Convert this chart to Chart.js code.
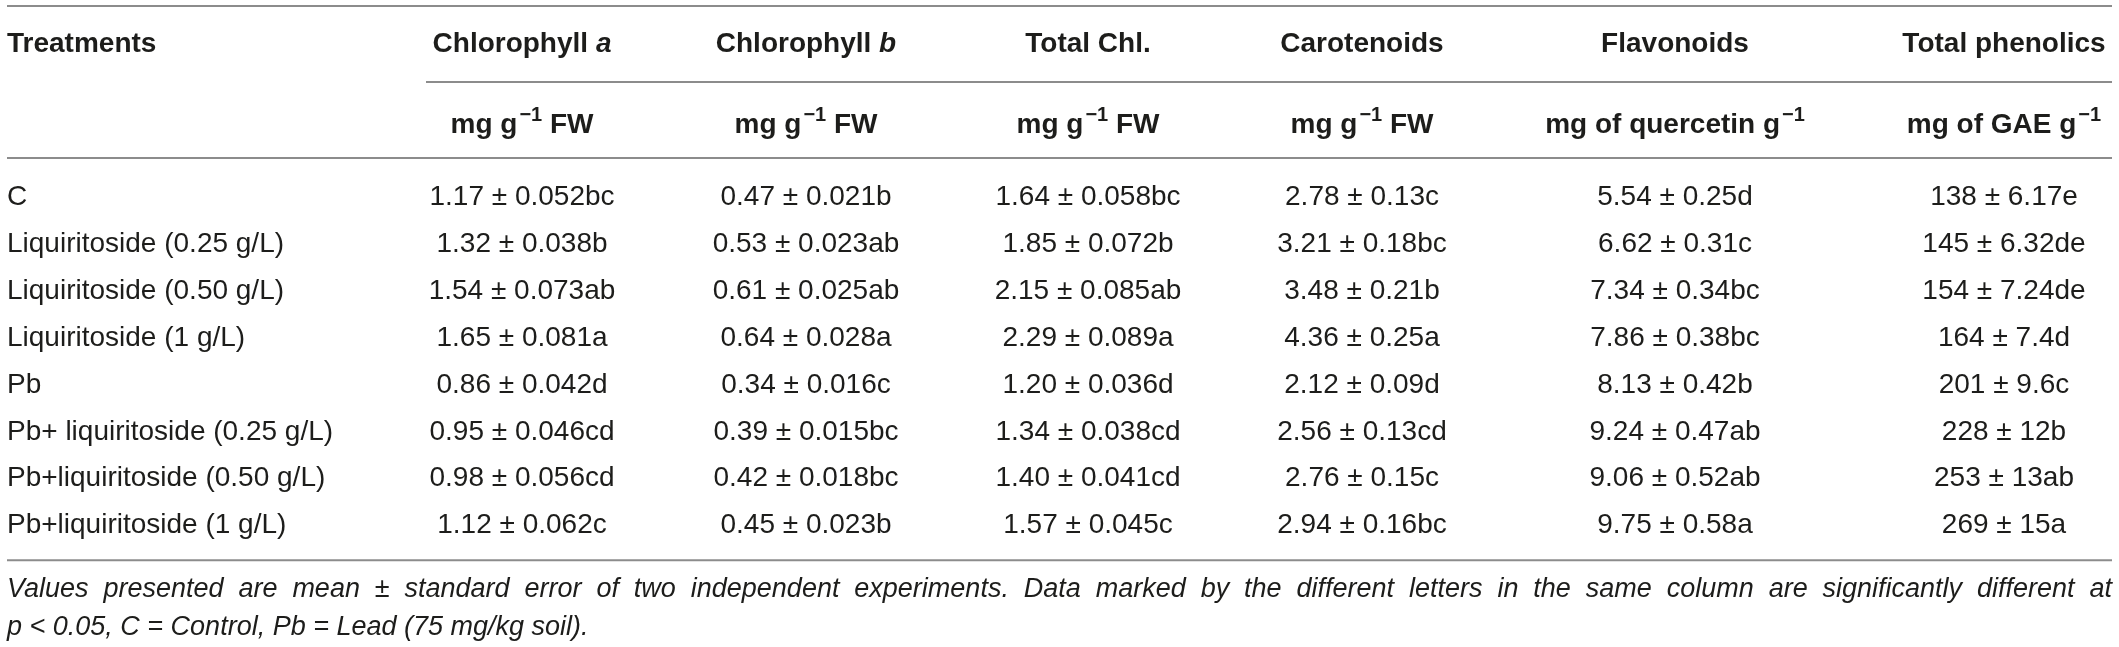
<!DOCTYPE html>
<html>
<head>
<meta charset="utf-8">
<script src="https://cdn.jsdelivr.net/npm/chart.js@4.4.1/dist/chart.umd.min.js"></script>
<style>
  html, body { margin: 0; padding: 0; background: #fff; }
  canvas { display: block; }
</style>
</head>
<body>
<canvas id="tableChart" width="2119" height="647"></canvas>
<script>
// Table contents
const treatments = [
    'C',
    'Liquiritoside (0.25 g/L)',
    'Liquiritoside (0.50 g/L)',
    'Liquiritoside (1 g/L)',
    'Pb',
    'Pb+ liquiritoside (0.25 g/L)',
    'Pb+liquiritoside (0.50 g/L)',
    'Pb+liquiritoside (1 g/L)'
];

// *x* = italic, ^x^ = superscript
const columnHeaders = ['Chlorophyll *a*', 'Chlorophyll *b*', 'Total Chl.', 'Carotenoids', 'Flavonoids', 'Total phenolics'];
const columnUnits = ['mg g^−1^ FW', 'mg g^−1^ FW', 'mg g^−1^ FW', 'mg g^−1^ FW', 'mg of quercetin g^−1^', 'mg of GAE g^−1^'];

const chlA = [1.17, 1.32, 1.54, 1.65, 0.86, 0.95, 0.98, 1.12];
const chlASe = [0.052, 0.038, 0.073, 0.081, 0.042, 0.046, 0.056, 0.062];
const chlALetters = ['bc', 'b', 'ab', 'a', 'd', 'cd', 'cd', 'c'];

const chlB = [0.47, 0.53, 0.61, 0.64, 0.34, 0.39, 0.42, 0.45];
const chlBSe = [0.021, 0.023, 0.025, 0.028, 0.016, 0.015, 0.018, 0.023];
const chlBLetters = ['b', 'ab', 'ab', 'a', 'c', 'bc', 'bc', 'b'];

const totalChl = [1.64, 1.85, 2.15, 2.29, 1.20, 1.34, 1.40, 1.57];
const totalChlSe = [0.058, 0.072, 0.085, 0.089, 0.036, 0.038, 0.041, 0.045];
const totalChlLetters = ['bc', 'b', 'ab', 'a', 'd', 'cd', 'cd', 'c'];

const carotenoids = [2.78, 3.21, 3.48, 4.36, 2.12, 2.56, 2.76, 2.94];
const carotenoidsSe = [0.13, 0.18, 0.21, 0.25, 0.09, 0.13, 0.15, 0.16];
const carotenoidsLetters = ['c', 'bc', 'b', 'a', 'd', 'cd', 'c', 'bc'];

const flavonoids = [5.54, 6.62, 7.34, 7.86, 8.13, 9.24, 9.06, 9.75];
const flavonoidsSe = [0.25, 0.31, 0.34, 0.38, 0.42, 0.47, 0.52, 0.58];
const flavonoidsLetters = ['d', 'c', 'bc', 'bc', 'b', 'ab', 'ab', 'a'];

const phenolics = [138, 145, 154, 164, 201, 228, 253, 269];
const phenolicsSe = [6.17, 6.32, 7.24, 7.4, 9.6, 12, 13, 15];
const phenolicsLetters = ['e', 'de', 'de', 'd', 'c', 'b', 'ab', 'a'];

const footnoteLines = [
    'Values presented are mean ± standard error of two independent experiments. Data marked by the different letters in the same column are significantly different at',
    'p < 0.05, C = Control, Pb = Lead (75 mg/kg soil).'
];

// layout (not data)
const W = 2119, H = 647;
const FONT = '"Liberation Sans", Arial, Helvetica, sans-serif';
const SIZE = 28;
const TEXT = '#1d1d1b';
const RULE = '#8c8c8c';
const leftX = 7, rightX = 2112;
const colX = [522, 806, 1088, 1362, 1675, 2004];
const rowPitch = 46.9;
const firstRowMid = 195;

const columns = [
    { mean: chlA, se: chlASe, letters: chlALetters, dm: 2, ds: 3 },
    { mean: chlB, se: chlBSe, letters: chlBLetters, dm: 2, ds: 3 },
    { mean: totalChl, se: totalChlSe, letters: totalChlLetters, dm: 2, ds: 3 },
    { mean: carotenoids, se: carotenoidsSe, letters: carotenoidsLetters, dm: 2, ds: 2 },
    { mean: flavonoids, se: flavonoidsSe, letters: flavonoidsLetters, dm: 2, ds: 2 },
    { mean: phenolics, se: phenolicsSe, letters: phenolicsLetters, dm: 0, ds: null }
];

function fmt(v, d) { return d === null ? String(v) : v.toFixed(d); }
function cellText(col, i) {
    return fmt(col.mean[i], col.dm) + ' ± ' + fmt(col.se[i], col.ds) + col.letters[i];
}

// split "Chlorophyll *a*" / "g^−1^" into styled pieces
function parseRich(str) {
    const parts = [];
    const re = /(\*[^*]+\*|\^[^^]+\^)/g;
    let last = 0, m;
    while ((m = re.exec(str)) !== null) {
        if (m.index > last) parts.push({ t: str.slice(last, m.index) });
        const inner = m[0].slice(1, -1);
        parts.push(m[0][0] === '*' ? { t: inner, italic: true } : { t: inner, sup: true });
        last = m.index + m[0].length;
    }
    if (last < str.length) parts.push({ t: str.slice(last) });
    return parts;
}

function pieceFont(p, bold) {
    const size = p.sup ? Math.round(SIZE * 0.7) : SIZE;
    return (p.italic ? 'italic ' : '') + (bold ? 'bold ' : '') + size + 'px ' + FONT;
}

function drawRich(ctx, str, cx, baseline, bold) {
    const parts = parseRich(str);
    let total = 0;
    parts.forEach(p => { ctx.font = pieceFont(p, bold); p.w = ctx.measureText(p.t).width + (p.sup ? 2 : 0); total += p.w; });
    let x = cx - total / 2;
    parts.forEach(p => {
        ctx.font = pieceFont(p, bold);
        ctx.fillText(p.t, x + (p.sup ? 2 : 0), p.sup ? baseline - SIZE * 0.42 : baseline);
        x += p.w;
    });
}

function drawJustified(ctx, str, x0, x1, baseline) {
    const words = str.split(' ');
    const widths = words.map(w => ctx.measureText(w).width);
    const sum = widths.reduce((a, b) => a + b, 0);
    const gap = (x1 - x0 - sum) / (words.length - 1);
    let x = x0;
    words.forEach((w, i) => { ctx.fillText(w, x, baseline); x += widths[i] + gap; });
}

function hRule(ctx, x0, x1, y) {
    ctx.beginPath();
    ctx.moveTo(x0, y);
    ctx.lineTo(x1, y);
    ctx.stroke();
}

const tablePlugin = {
    id: 'tableText',
    afterDatasetsDraw(chart) {
        const ctx = chart.ctx;
        const yScale = chart.scales.y;
        const capOff = SIZE * 0.36;
        ctx.save();
        ctx.fillStyle = TEXT;
        ctx.textBaseline = 'alphabetic';

        // rules
        ctx.strokeStyle = RULE;
        ctx.lineWidth = 2;
        hRule(ctx, leftX, rightX, 6);
        hRule(ctx, 426, rightX, 82);
        hRule(ctx, leftX, rightX, 158);
        const lastMid = yScale.getPixelForValue(treatments.length - 1);
        hRule(ctx, leftX, rightX, lastMid + 37);

        // header row
        ctx.textAlign = 'left';
        ctx.font = 'bold ' + SIZE + 'px ' + FONT;
        ctx.fillText('Treatments', leftX, 52);
        columnHeaders.forEach((h, c) => drawRich(ctx, h, chart.scales.x.getPixelForValue(colX[c]), 52, true));
        columnUnits.forEach((u, c) => drawRich(ctx, u, chart.scales.x.getPixelForValue(colX[c]), 133, true));

        // treatment names
        ctx.font = SIZE + 'px ' + FONT;
        ctx.textAlign = 'left';
        treatments.forEach((t, i) => ctx.fillText(t, leftX, yScale.getPixelForValue(i) + capOff));

        // cells, one dataset per column
        ctx.textAlign = 'center';
        chart.data.datasets.forEach((ds, c) => {
            chart.getDatasetMeta(c).data.forEach((el, i) => {
                ctx.fillText(cellText(columns[c], i), el.x, el.y + capOff);
            });
        });

        // footnote
        ctx.textAlign = 'left';
        ctx.font = 'italic 27px ' + FONT;
        drawJustified(ctx, footnoteLines[0], leftX, rightX, lastMid + 74);
        ctx.fillText(footnoteLines[1], leftX, lastMid + 112);
        ctx.restore();
    }
};

const padTop = firstRowMid - rowPitch / 2;
const padBottom = H - (padTop + rowPitch * treatments.length);

new Chart(document.getElementById('tableChart'), {
    type: 'scatter',
    data: {
        datasets: columns.map((col, c) => ({
            label: columnHeaders[c],
            data: treatments.map((t, i) => ({ x: colX[c], y: t })),
            pointRadius: 0,
            showLine: false
        }))
    },
    options: {
        responsive: false,
        devicePixelRatio: 1,
        animation: false,
        layout: { padding: { top: padTop, bottom: padBottom, left: 0, right: 0 } },
        plugins: { legend: { display: false }, tooltip: { enabled: false } },
        scales: {
            x: { type: 'linear', min: 0, max: W, display: false },
            y: { type: 'category', labels: treatments, offset: true, display: false }
        }
    },
    plugins: [tablePlugin]
});
</script>
</body>
</html>
